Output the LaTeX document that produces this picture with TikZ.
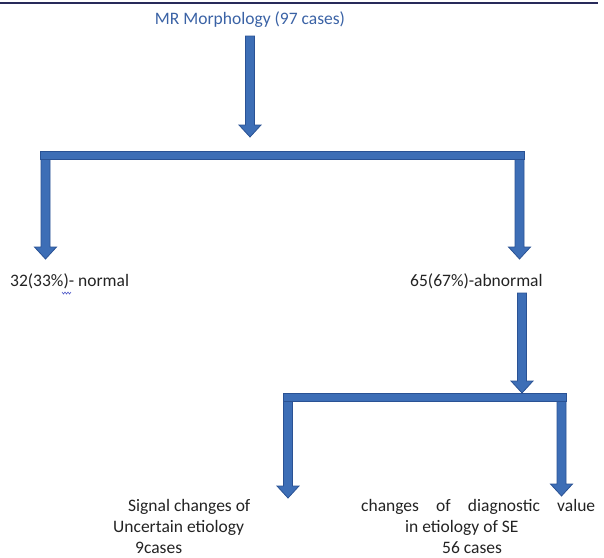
\documentclass[tikz,border=0pt]{standalone}
\usepackage{fontspec}
\setmainfont{Carlito}
\usetikzlibrary{calc}
\definecolor{arrowfill}{RGB}{61,110,182}
\definecolor{arrowedge}{RGB}{42,82,148}
\definecolor{titleblue}{RGB}{58,98,165}
\definecolor{rulenavy}{RGB}{40,42,90}
\definecolor{txt}{RGB}{35,35,35}
\definecolor{squig}{RGB}{80,90,200}
\tikzset{
  blockstyle/.style={fill=arrowfill, draw=arrowedge, line width=0.8pt, line join=miter},
  lbl/.style={font=\fontsize{17.5}{21}\selectfont, text=txt, inner sep=0pt},
}
\newcommand\blockarrow[2]{%
  \filldraw[blockstyle] let \p1=(#1), \p2=(#2) in
    (\x1-4.5pt,\y1) -- (\x1+4.5pt,\y1) -- (\x1+4.5pt,\y2+12pt) -- (\x1+11pt,\y2+12pt)
    -- (\x1,\y2) -- (\x1-11pt,\y2+12pt) -- (\x1-4.5pt,\y2+12pt) -- cycle;}
\begin{document}
\begin{tikzpicture}[x=1pt,y=-1pt]
\useasboundingbox (0,0) rectangle (604,557);
\draw[rulenavy, line width=2pt] (0,3) -- (598,3);

\node[lbl, text=titleblue, anchor=base] (title) at (250,24) {MR Morphology (97 cases)};
\node[lbl, anchor=base west] (normal) at (10,286) {32(33\%)- normal};
\node[lbl, anchor=base west] (abn) at (410,286) {65(67\%)-abnormal};
\node[lbl, anchor=north west, align=left] (uncert) at (113,499)
  {\hspace*{15pt}Signal changes of\\Uncertain etiology\\\hspace*{22pt}9cases};
\node[lbl, anchor=north west, align=left] (diag) at (361,499)
  {\hbox to 234pt{changes\hfill of\hfill diagnostic\hfill value}\\\hspace*{44pt}in etiology of SE\\\hspace*{81pt}56 cases};

% coordinates of the split bars
\coordinate (b1l) at (45.5,155);
\coordinate (b1r) at (519.5,155);
\coordinate (b2l) at (288,397);
\coordinate (b2r) at (561.5,397);
\coordinate (t0) at (250,36);
\coordinate (t1) at (250,137);
\coordinate (a0) at (522,293);
\coordinate (a1) at (522,393);
\coordinate (n1) at (45.5,259);
\coordinate (ab1) at (519.5,259);
\coordinate (u1) at (288,498);
\coordinate (d1) at (561.5,496);

\blockarrow{t0}{t1}
\blockarrow{b1l}{n1}
\blockarrow{b1r}{ab1}
\filldraw[blockstyle] (40.5,151) rectangle (524.5,159);

\blockarrow{a0}{a1}
\blockarrow{b2l}{u1}
\blockarrow{b2r}{d1}
\filldraw[blockstyle] (283,393) rectangle (566,401);

\draw[squig, line width=0.6pt] (62,292) -- (63.5,294) -- (65,292) -- (66.5,294) -- (68,292) -- (69.5,294) -- (71,292);
\end{tikzpicture}
\end{document}
